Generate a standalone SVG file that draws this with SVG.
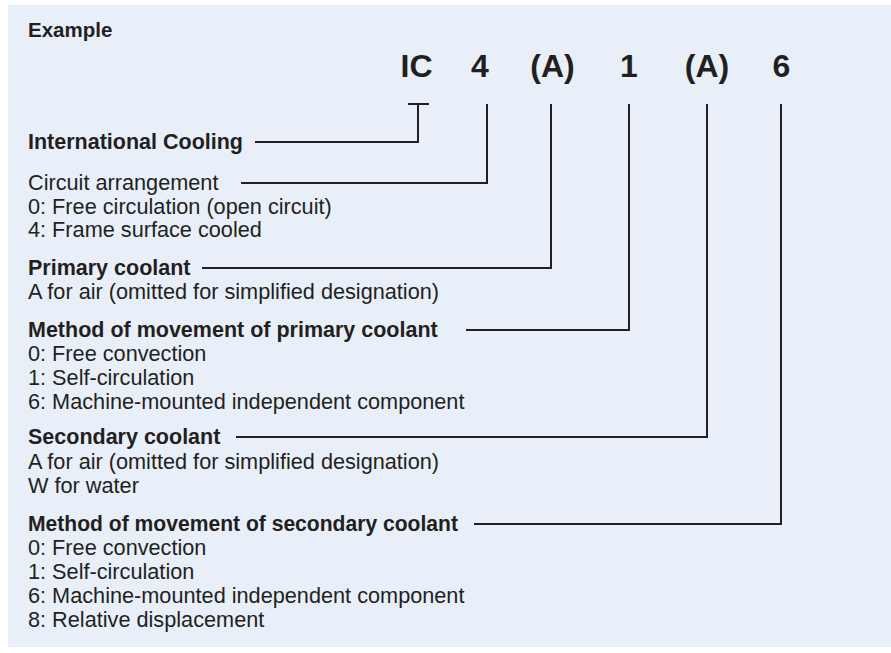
<svg xmlns="http://www.w3.org/2000/svg" width="891" height="653" viewBox="0 0 891 653">
<style>
text{font-family:"Liberation Sans",Arial,sans-serif;fill:#231f20}
.e{font-size:20.5px;font-weight:bold}
.h{font-size:21.5px;font-weight:bold}
.t{font-size:21.7px}
.big{font-size:32px;font-weight:bold;text-anchor:middle}
.c{fill:none;stroke:#231f20;stroke-width:2}
</style>
<rect x="8" y="5" width="883" height="642" fill="#e8eff9"/>
<text class="e" x="28" y="37">Example</text>
<g id="code">
<text class="big" x="416.5" y="77">IC</text>
<text class="big" x="480" y="77">4</text>
<text class="big" x="552.5" y="77">(A)</text>
<text class="big" x="629" y="77">1</text>
<text class="big" x="707" y="77">(A)</text>
<text class="big" x="781.5" y="77">6</text>
</g>
<g id="n1"><text class="h" x="28" y="149">International Cooling</text></g>
<g id="n2"><text class="t" x="28" y="190">Circuit arrangement</text><text class="t" x="28" y="214">0: Free circulation (open circuit)</text><text class="t" x="28" y="237">4: Frame surface cooled</text></g>
<g id="n3"><text class="h" x="28" y="275">Primary coolant</text><text class="t" x="28" y="299">A for air (omitted for simplified designation)</text></g>
<g id="n4"><text class="h" x="28" y="337">Method of movement of primary coolant</text><text class="t" x="28" y="361">0: Free convection</text><text class="t" x="28" y="385">1: Self-circulation</text><text class="t" x="28" y="409">6: Machine-mounted independent component</text></g>
<g id="n5"><text class="h" x="28" y="444">Secondary coolant</text><text class="t" x="28" y="469">A for air (omitted for simplified designation)</text><text class="t" x="28" y="493">W for water</text></g>
<g id="n6"><text class="h" x="28" y="531" textLength="430" lengthAdjust="spacingAndGlyphs">Method of movement of secondary coolant</text><text class="t" x="28" y="555">0: Free convection</text><text class="t" x="28" y="579">1: Self-circulation</text><text class="t" x="28" y="603">6: Machine-mounted independent component</text><text class="t" x="28" y="627">8: Relative displacement</text></g>
<g id="connectors">
<path class="c" d="M408 104H429M418 104V142H255"/>
<path class="c" d="M487 104V183H241"/>
<path class="c" d="M551 104V268H202"/>
<path class="c" d="M629 104V330H466"/>
<path class="c" d="M707 104V437H236"/>
<path class="c" d="M781 104V524H474"/>
</g>
</svg>
